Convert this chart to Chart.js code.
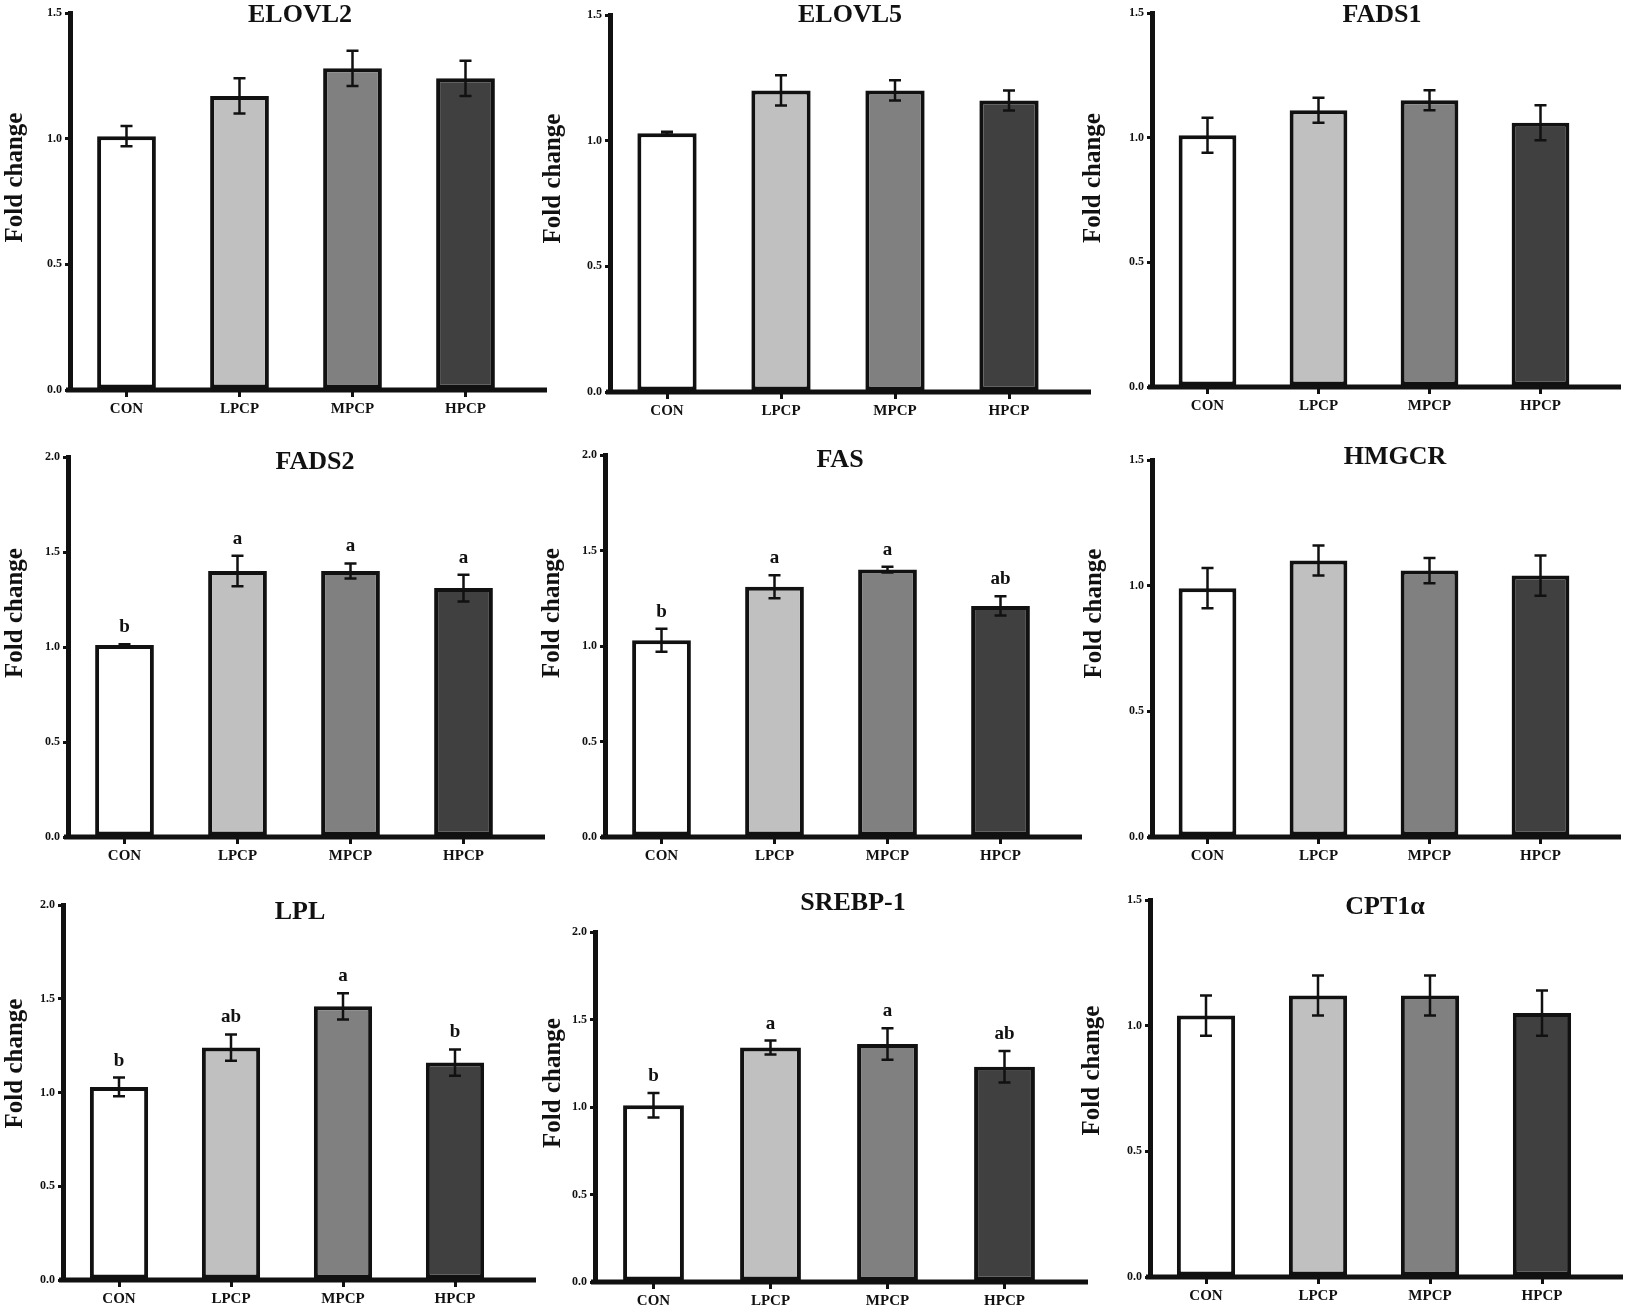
<!DOCTYPE html>
<html>
<head>
<meta charset="utf-8">
<script src="https://cdn.jsdelivr.net/npm/chart.js@4.4.1/dist/chart.umd.min.js"></script>
<style>
  html, body { margin: 0; padding: 0; background: #fff; }
  #wrap { position: relative; width: 1626px; height: 1314px; overflow: hidden; }
  #wrap canvas { position: absolute; }
</style>
</head>
<body>
<div id="wrap"></div>
<script>
// groups on every x axis
const groups = ['CON', 'LPCP', 'MPCP', 'HPCP'];
const genes = ['ELOVL2', 'ELOVL5', 'FADS1', 'FADS2', 'FAS', 'HMGCR', 'LPL', 'SREBP-1', 'CPT1α'];
const yLabel = 'Fold change';

// mean fold change
const elovl2 = [1.01, 1.17, 1.28, 1.24];
const elovl5 = [1.03, 1.20, 1.20, 1.16];
const fads1  = [1.01, 1.11, 1.15, 1.06];
const fads2  = [1.01, 1.40, 1.40, 1.31];
const fas    = [1.03, 1.31, 1.40, 1.21];
const hmgcr  = [0.99, 1.10, 1.06, 1.04];
const lpl    = [1.03, 1.24, 1.46, 1.16];
const srebp1 = [1.01, 1.34, 1.36, 1.23];
const cpt1a  = [1.04, 1.12, 1.12, 1.05];

// error bars (+/-)
const elovl2Err = [0.04, 0.07, 0.07, 0.07];
const elovl5Err = [0.005, 0.06, 0.04, 0.04];
const fads1Err  = [0.07, 0.05, 0.04, 0.07];
const fads2Err  = [0.005, 0.08, 0.04, 0.07];
const fasErr    = [0.06, 0.06, 0.015, 0.05];
const hmgcrErr  = [0.08, 0.06, 0.05, 0.08];
const lplErr    = [0.05, 0.07, 0.07, 0.07];
const srebp1Err = [0.07, 0.04, 0.09, 0.09];
const cpt1aErr  = [0.08, 0.08, 0.08, 0.09];

// significance letters (only some panels have them)
const fads2Sig  = ['b', 'a', 'a', 'a'];
const fasSig    = ['b', 'a', 'a', 'ab'];
const lplSig    = ['b', 'ab', 'a', 'b'];
const srebp1Sig = ['b', 'a', 'a', 'ab'];

// y axis top and tick step
const yMax = [1.5, 1.5, 1.5, 2.0, 2.0, 1.5, 2.0, 2.0, 1.5];
const yStep = 0.5;

const means = [elovl2, elovl5, fads1, fads2, fas, hmgcr, lpl, srebp1, cpt1a];
const errs = [elovl2Err, elovl5Err, fads1Err, fads2Err, fasErr, hmgcrErr, lplErr, srebp1Err, cpt1aErr];
const sigs = [null, null, null, fads2Sig, fasSig, null, lplSig, srebp1Sig, null];

// where each panel sits on the page: y axis x, top tick y, zero line y, group spacing,
// title nudge (dx, dy), y-label page x (lx) and nudge (ly)
const panels = [
  { x: 70,   top: 13,  zero: 390,  step: 113, dx: 4,  dy: 2,   lx: 16,   ly: -24 },
  { x: 610,  top: 15,  zero: 392,  step: 114, dx: 12, dy: 0,   lx: 554,  ly: -25 },
  { x: 1152, top: 13,  zero: 387,  step: 111, dx: 8,  dy: 2,   lx: 1094, ly: -22 },
  { x: 68,   top: 457, zero: 837,  step: 113, dx: 21, dy: 5,   lx: 16,   ly: -34 },
  { x: 605,  top: 455, zero: 837,  step: 113, dx: 9,  dy: 5,   lx: 553,  ly: -33 },
  { x: 1152, top: 460, zero: 837,  step: 111, dx: 21, dy: -3,  lx: 1095, ly: -35 },
  { x: 63,   top: 905, zero: 1280, step: 112, dx: 13, dy: 7,   lx: 16,   ly: -29 },
  { x: 595,  top: 932, zero: 1282, step: 117, dx: 24, dy: -29, lx: 554,  ly: -24 },
  { x: 1150, top: 900, zero: 1277, step: 112, dx: 11, dy: 7,   lx: 1093, ly: -18 }
];

const barColors = ['#ffffff', '#c0c0c0', '#808080', '#404040'];
const ink = '#111';
const serif = '"Liberation Serif", "Times New Roman", serif';
const LEFT = 70, PADTOP = 50, XAXIS = 40, PADRIGHT = 30;

Chart.defaults.font.family = serif;
Chart.defaults.font.weight = 'bold';
Chart.defaults.color = ink;

// draws the long x axis line, error bars, letters, panel title and y label
const extras = {
  id: 'extras',
  afterDatasetsDraw(chart, args, opts) {
    const ctx = chart.ctx;
    const a = chart.chartArea;
    const ys = chart.scales.y;
    const bars = chart.getDatasetMeta(0).data;
    ctx.save();
    ctx.strokeStyle = ink;
    ctx.fillStyle = ink;

    ctx.lineWidth = 5;
    ctx.beginPath();
    ctx.moveTo(a.left - 4, a.bottom);
    ctx.lineTo(a.right + 25, a.bottom);
    ctx.stroke();

    ctx.lineWidth = 2.5;
    bars.forEach((bar, i) => {
      const m = opts.mean[i], e = opts.err[i];
      const yHi = ys.getPixelForValue(m + e);
      const yLo = ys.getPixelForValue(m - e);
      ctx.beginPath();
      ctx.moveTo(bar.x, yHi); ctx.lineTo(bar.x, yLo);
      ctx.moveTo(bar.x - 6, yHi); ctx.lineTo(bar.x + 6, yHi);
      ctx.moveTo(bar.x - 6, yLo); ctx.lineTo(bar.x + 6, yLo);
      ctx.stroke();
      if (opts.sig) {
        ctx.font = 'bold 19px ' + serif;
        ctx.textAlign = 'center';
        ctx.textBaseline = 'alphabetic';
        ctx.fillText(opts.sig[i], bar.x, yHi - 12);
      }
    });

    ctx.textAlign = 'center';
    ctx.textBaseline = 'middle';
    ctx.font = 'bold 26px ' + serif;
    ctx.fillText(opts.title, (a.left + a.right) / 2 + opts.dx, a.top + opts.dy);

    ctx.font = 'bold 25px ' + serif;
    ctx.translate(opts.lx, (a.top + a.bottom) / 2 + opts.ly);
    ctx.rotate(-Math.PI / 2);
    ctx.fillText(yLabel, 0, 0);
    ctx.restore();
  }
};

const wrap = document.getElementById('wrap');

panels.forEach((p, k) => {
  const plotW = p.step * 4;
  const plotH = p.zero - p.top;
  const W = LEFT + plotW + PADRIGHT;
  const H = PADTOP + plotH + XAXIS;
  const cvLeft = p.x - LEFT;
  const cv = document.createElement('canvas');
  cv.width = W; cv.height = H;
  cv.style.width = W + 'px'; cv.style.height = H + 'px';
  cv.style.left = cvLeft + 'px';
  cv.style.top = (p.top - PADTOP) + 'px';
  wrap.appendChild(cv);

  new Chart(cv.getContext('2d'), {
    type: 'bar',
    data: {
      labels: groups,
      datasets: [{
        data: means[k],
        backgroundColor: barColors,
        borderColor: ink,
        borderWidth: 4,
        borderSkipped: false,
        barPercentage: 0.52,
        categoryPercentage: 1
      }]
    },
    options: {
      responsive: false,
      animation: false,
      layout: { padding: { top: PADTOP, right: PADRIGHT, left: 0, bottom: 0 } },
      plugins: {
        legend: { display: false },
        tooltip: { enabled: false },
        extras: {
          mean: means[k], err: errs[k], sig: sigs[k], title: genes[k],
          dx: p.dx, dy: p.dy, lx: p.lx - cvLeft, ly: p.ly
        }
      },
      scales: {
        x: {
          afterFit: s => { s.height = XAXIS; },
          border: { display: false },
          grid: { display: true, drawOnChartArea: false, offset: false, tickLength: 7, lineWidth: 3, color: ink },
          ticks: { font: { size: 15, weight: 'bold' }, padding: 3, color: ink }
        },
        y: {
          min: 0,
          max: yMax[k],
          afterFit: s => { s.width = LEFT; },
          border: { display: true, width: 5, color: ink },
          grid: { display: true, drawOnChartArea: false, tickLength: 5, lineWidth: 3, color: ink },
          ticks: {
            stepSize: yStep,
            font: { size: 12, weight: 'bold' },
            padding: 3,
            color: ink,
            callback: v => v.toFixed(1)
          }
        }
      }
    },
    plugins: [extras]
  });
});
</script>
</body>
</html>
